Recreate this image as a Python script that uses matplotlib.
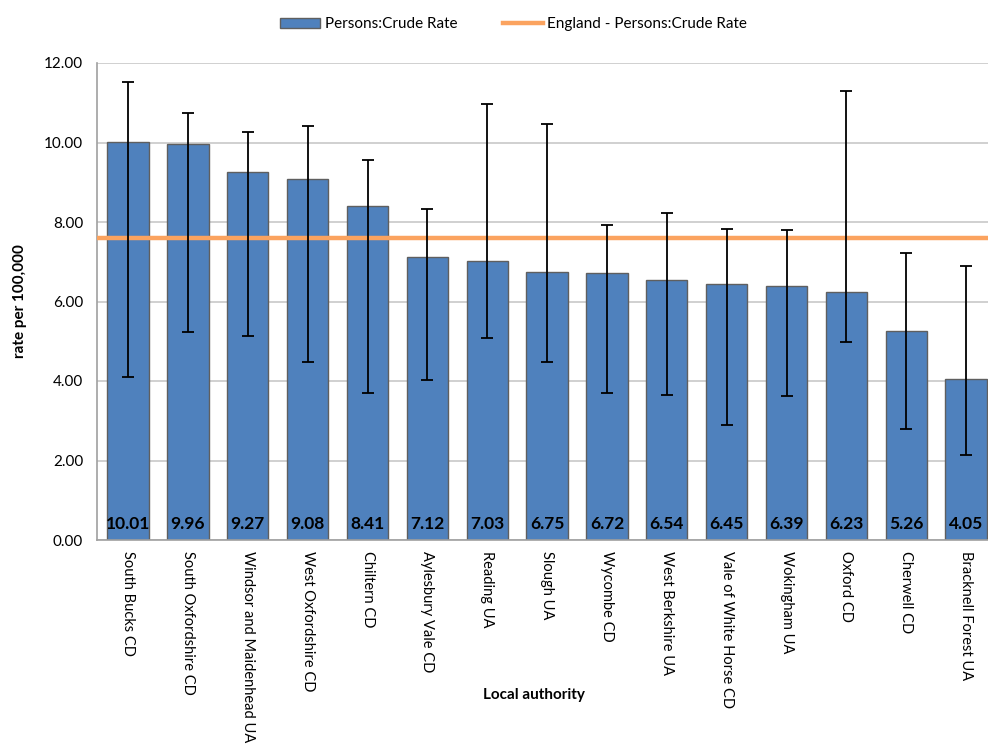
import matplotlib.pyplot as plt
import numpy as np

plt.rcParams['font.family'] = ['Lato', 'DejaVu Sans']

areas = ["South Bucks CD", "South Oxfordshire CD", "Windsor and Maidenhead UA",
         "West Oxfordshire CD", "Chiltern CD", "Aylesbury Vale CD", "Reading UA",
         "Slough UA", "Wycombe CD", "West Berkshire UA", "Vale of White Horse CD",
         "Wokingham UA", "Oxford CD", "Cherwell CD", "Bracknell Forest UA"]
rates = [10.01, 9.96, 9.27, 9.08, 8.41, 7.12, 7.03, 6.75, 6.72, 6.54, 6.45, 6.39, 6.23, 5.26, 4.05]
ci_upper = [11.52, 10.74, 10.26, 10.42, 9.56, 8.33, 10.97, 10.47, 7.92, 8.23, 7.82, 7.80, 11.30, 7.22, 6.89]
ci_lower = [4.10, 5.23, 5.13, 4.48, 3.70, 4.03, 5.08, 4.48, 3.70, 3.65, 2.89, 3.62, 4.98, 2.79, 2.14]
england_rate = 7.60

x = np.arange(len(areas))
rates_a = np.array(rates)
yerr = [rates_a - np.array(ci_lower), np.array(ci_upper) - rates_a]

fig = plt.figure(figsize=(9.88, 7.44), dpi=100)
ax = fig.add_axes([97 / 988, 204 / 744, 899 / 988, 477 / 744])

bars = ax.bar(x, rates, width=0.69, color="#4f81bd", edgecolor="#5f5f5f", linewidth=1.0,
              label="Persons:Crude Rate", zorder=2)
ax.errorbar(x, rates, yerr=yerr, fmt="none", ecolor="black", elinewidth=1.3,
            capsize=4, capthick=1.3, zorder=4)
eng = ax.axhline(england_rate, color="#fba35f", linewidth=3.2, zorder=3,
                 label="England - Persons:Crude Rate")

for xi, r in zip(x, rates):
    ax.annotate(f"{r:.2f}", (xi, 0), xytext=(0, 6), textcoords="offset points",
                ha="center", va="bottom", fontsize=12.5, fontweight="bold", zorder=5)

ax.set_xlim(-0.52, 14.5)
ax.set_ylim(0, 12)
ax.set_yticks(np.arange(0, 12.1, 2))
ax.set_yticklabels([f"{v:.2f}" for v in np.arange(0, 12.1, 2)], fontsize=11)
ax.set_xticks(x)
ax.set_xticklabels(areas, rotation=270, fontsize=10.5, va="top", ha="center")
ax.tick_params(axis="both", length=0, pad=10)
ax.tick_params(axis="x", pad=8)

ax.grid(axis="y", color="#c8c8c8", linewidth=1.2, zorder=0)
ax.set_axisbelow(True)
for side in ["top", "right"]:
    ax.spines[side].set_visible(False)
ax.spines["left"].set_color("#a0a0a0")
ax.spines["bottom"].set_color("#a0a0a0")
ax.spines["left"].set_linewidth(1.2)
ax.spines["bottom"].set_linewidth(1.2)

ax.set_ylabel("rate per 100,000", fontsize=11, fontweight="bold", labelpad=12)
fig.text(0.54, 1 - 695 / 744, "Local authority", ha="center", va="center",
         fontsize=11, fontweight="bold")

fig.legend(handles=[bars, eng], loc="upper center", bbox_to_anchor=(0.52, 0.995),
           ncol=2, frameon=False, fontsize=11, handlelength=2.6, columnspacing=3.0,
           handletextpad=0.3)

fig.savefig("out.png", dpi=100)
